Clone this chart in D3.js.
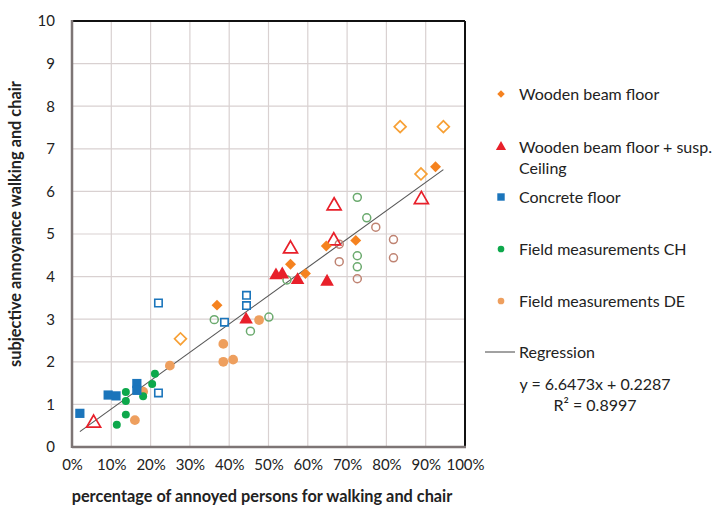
<!DOCTYPE html>
<html><head><meta charset="utf-8">
<script src="https://cdn.jsdelivr.net/npm/d3@7"></script>
<style>body{margin:0;background:#fff}svg{display:block}text{font-family:Lato,"Open Sans",sans-serif;fill:#222}</style>
</head><body><svg id="c" width="713" height="511"></svg>
<script>
// ---- data (x = share of annoyed persons, y = subjective annoyance) ----
const woodenFilled = [[0.369,3.33],[0.556,4.29],[0.594,4.07],[0.647,4.72],[0.722,4.85],[0.925,6.58]];
const woodenOpen   = [[0.276,2.54],[0.835,7.52],[0.945,7.52],[0.888,6.41]];
const suspFilled   = [[0.519,4.03],[0.535,4.05],[0.574,3.92],[0.649,3.88],[0.443,2.99]];
const suspOpen     = [[0.055,0.56],[0.556,4.65],[0.667,5.66],[0.666,4.84],[0.889,5.81]];
const concFilled   = [[0.020,0.79],[0.092,1.22],[0.112,1.20],[0.165,1.49],[0.165,1.33]];
const concOpen     = [[0.220,3.38],[0.220,1.27],[0.388,2.93],[0.444,3.32],[0.444,3.56]];
const chFilled     = [[0.211,1.72],[0.204,1.48],[0.137,1.29],[0.137,1.08],[0.181,1.19],[0.137,0.76],[0.114,0.52]];
const chOpen       = [[0.362,2.99],[0.454,2.72],[0.501,3.05],[0.547,3.92],[0.726,5.86],[0.750,5.38],[0.726,4.49],[0.726,4.23]];
const deFilled     = [[0.160,0.63],[0.181,1.30],[0.249,1.91],[0.385,2.42],[0.385,2.00],[0.410,2.05],[0.476,2.98]];
const deOpen       = [[0.680,4.76],[0.680,4.35],[0.773,5.16],[0.818,4.87],[0.818,4.44],[0.726,3.95]];
const regression   = {slope: 6.6473, intercept: 0.2287, xMin: 0.02, xMax: 0.945};
const xTicks = [0,0.1,0.2,0.3,0.4,0.5,0.6,0.7,0.8,0.9,1.0];
const yTicks = [0,1,2,3,4,5,6,7,8,9,10];
const legendLabels = ["Wooden beam floor","Wooden beam floor + susp.|Ceiling","Concrete floor","Field measurements CH","Field measurements DE","Regression"];
const equationText = ["y = 6.6473x + 0.2287","R\u00b2 = 0.8997"];
const xTitle = "percentage of annoyed persons for walking and chair";
const yTitle = "subjective annoyance walking and chair";

const C = {orange:"#F5821F", orangeOpen:"#F7A035", red:"#E8202A", blue:"#1B75BB", green:"#0DA84B",
           greenOpen:"#6BAA6E", de:"#EE9F5E", deOpen:"#BF8372", grid:"#D9D1D1"};

const svg = d3.select("#c");
const L=72, R=465, T=21, B=447;
const x = d3.scaleLinear().domain([0,1]).range([L,R]);
const y = d3.scaleLinear().domain([0,10]).range([B,T]);

function fit(sel, target){
  const w = sel.node().getComputedTextLength();
  const fs = parseFloat(sel.style("font-size"));
  sel.style("font-size", (fs*target/w).toFixed(2)+"px");
}

// grid
svg.append("g").selectAll("line.v").data(xTicks.slice(1,-1)).join("line")
  .attr("x1",d=>x(d)).attr("x2",d=>x(d)).attr("y1",T).attr("y2",B).attr("stroke",C.grid).attr("stroke-width",1.2);
svg.append("g").selectAll("line.h").data(yTicks.slice(1,-1)).join("line")
  .attr("y1",d=>y(d)).attr("y2",d=>y(d)).attr("x1",L).attr("x2",R).attr("stroke",C.grid).attr("stroke-width",1.2);

// frame
svg.append("line").attr("x1",L).attr("x2",R).attr("y1",T).attr("y2",T).attr("stroke","#111").attr("stroke-width",2);
svg.append("line").attr("x1",R).attr("x2",R).attr("y1",T).attr("y2",B).attr("stroke","#111").attr("stroke-width",2);
svg.append("line").attr("x1",L).attr("x2",L).attr("y1",T-1).attr("y2",B+1).attr("stroke","#7d7575").attr("stroke-width",2.5);
svg.append("line").attr("x1",L).attr("x2",R+1).attr("y1",B).attr("y2",B).attr("stroke","#7d7575").attr("stroke-width",2.5);

// axes (labels only)
const xAxis = d3.axisBottom(x).tickValues(xTicks).tickFormat(d3.format(".0%")).tickSize(0).tickPadding(12);
const gx = svg.append("g").attr("transform",`translate(0,${B})`).call(xAxis);
gx.select(".domain").remove();
gx.selectAll("text").style("font-size","15px").attr("fill","#333").style("font-family","Lato");
const yAxis = d3.axisLeft(y).tickValues(yTicks).tickSize(0).tickPadding(17);
const gy = svg.append("g").attr("transform",`translate(${L},0)`).call(yAxis);
gy.select(".domain").remove();
gy.selectAll("text").style("font-size","15px").attr("fill","#333").style("font-family","Lato");

// titles
const xt = svg.append("text").attr("x",262).attr("y",502).attr("text-anchor","middle")
  .style("font-size","16px").style("font-weight","bold").text(xTitle);
fit(xt, 381);
const yt = svg.append("text").attr("transform","translate(21,224) rotate(-90)").attr("text-anchor","middle")
  .style("font-size","16px").style("font-weight","bold").text(yTitle);
fit(yt, 286);

// regression line
const rx = [regression.xMin, regression.xMax];
svg.append("line").attr("x1",x(rx[0])).attr("y1",y(regression.slope*rx[0]+regression.intercept))
  .attr("x2",x(rx[1])).attr("y2",y(regression.slope*rx[1]+regression.intercept))
  .attr("stroke","#555").attr("stroke-width",1.1);

// marker helpers
const sym = (type,size)=>d3.symbol().type(type).size(size)();
function plot(data, type, size, fill, stroke, sw, rot){
  svg.append("g").selectAll("path").data(data).join("path")
    .attr("transform",d=>`translate(${x(d[0])},${y(d[1])}) rotate(${rot||0})`)
    .attr("d",sym(type,size)).attr("fill",fill).attr("stroke",stroke).attr("stroke-width",sw||0);
}
plot(deOpen, d3.symbolCircle, 50, "none", C.deOpen, 1.5);
plot(chOpen, d3.symbolCircle, 50, "none", C.greenOpen, 1.5);
plot(concOpen, d3.symbolSquare, 55, "none", C.blue, 1.6);
plot(woodenOpen, d3.symbolSquare, 70, "none", C.orangeOpen, 1.7, 45);
plot(suspOpen, d3.symbolTriangle, 85, "none", C.red, 1.7);
plot(deFilled, d3.symbolCircle, 75, C.de, "none");
plot(chFilled, d3.symbolCircle, 50, C.green, "none");
plot(concFilled, d3.symbolSquare, 85, C.blue, "none");
plot(suspFilled, d3.symbolTriangle, 80, C.red, "none");
plot(woodenFilled, d3.symbolSquare, 60, C.orange, "none", 0, 45);

// legend
const lx = 501, tx = 519;
const legY = [94, 147, 197, 249, 301, 352];
const legSym = [[d3.symbolSquare,28,C.orange,45],[d3.symbolTriangle,45,C.red,0],[d3.symbolSquare,55,C.blue,0],[d3.symbolCircle,35,C.green,0],[d3.symbolCircle,35,C.de,0]];
legSym.forEach((s,i)=>{
  svg.append("path").attr("transform",`translate(${lx},${legY[i]}) rotate(${s[3]})`).attr("d",sym(s[0],s[1])).attr("fill",s[2]);
});
svg.append("line").attr("x1",485).attr("x2",515).attr("y1",legY[5]).attr("y2",legY[5]).attr("stroke","#444").attr("stroke-width",1);
legendLabels.forEach((lab,i)=>{
  const parts = lab.split("|");
  parts.forEach((p,j)=>{
    svg.append("text").attr("x",tx).attr("y",legY[i]+j*21).attr("dy","0.35em")
      .style("font-size","16px").text(p);
  });
});
equationText.forEach((t,i)=>{
  svg.append("text").attr("x",595).attr("y",384+i*21).attr("dy","0.35em").attr("text-anchor","middle")
    .style("font-size","16px").text(t);
});
</script></body></html>
